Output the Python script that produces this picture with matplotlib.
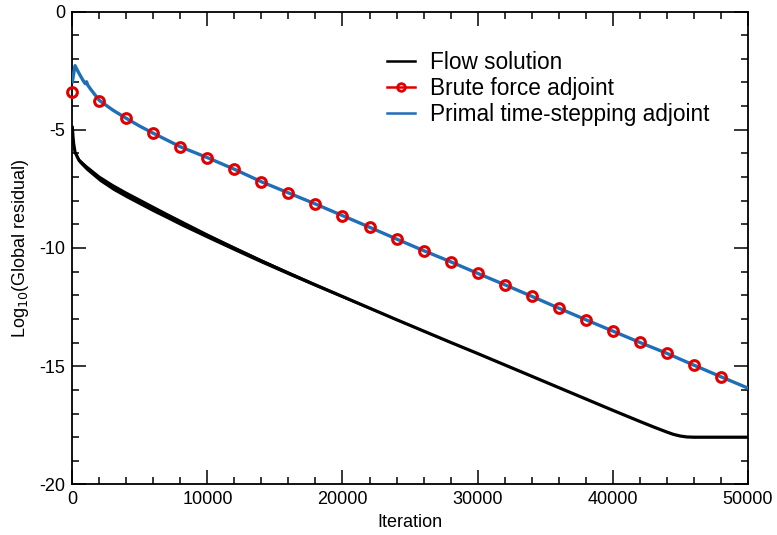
import matplotlib
matplotlib.use("Agg")
import matplotlib.pyplot as plt
from matplotlib.lines import Line2D
from matplotlib.ticker import MultipleLocator

plt.rcParams["font.family"] = ["Liberation Sans", "DejaVu Sans"]
plt.rcParams["axes.unicode_minus"] = False

# Flow solution residual: centre line and half-width of the noisy band
flow_iter = [0, 50, 100, 200, 500, 1000, 2000, 3000, 4000, 5000, 6000, 7000,
             8000, 9000, 10000, 12000, 14000, 16000, 18000, 20000, 22000,
             24000, 26000, 28000, 30000, 32000, 34000, 36000, 38000, 40000,
             42000, 43000, 44000, 44500, 45000, 45500, 46000, 50000]
flow_res = [-4.9, -5.3, -5.6, -5.95, -6.3, -6.58, -7.05, -7.42, -7.74, -8.04,
            -8.34, -8.63, -8.92, -9.2, -9.48, -10.02, -10.55, -11.06, -11.56,
            -12.05, -12.54, -13.03, -13.51, -13.99, -14.46, -14.94, -15.42,
            -15.9, -16.38, -16.86, -17.33, -17.56, -17.78, -17.88, -17.95,
            -17.99, -18.0, -18.0]
flow_spread = [0.02, 0.04, 0.06, 0.08, 0.1, 0.12, 0.13, 0.14, 0.14, 0.14,
               0.14, 0.13, 0.13, 0.12, 0.11, 0.1, 0.09, 0.08, 0.07, 0.06,
               0.05, 0.04, 0.04, 0.035, 0.03, 0.03, 0.03, 0.025, 0.025, 0.02,
               0.02, 0.02, 0.02, 0.02, 0.02, 0.02, 0.02, 0.02]

# Brute force adjoint, sampled every 2000 iterations
brute_iter = list(range(0, 50000, 2000))
brute_res = [-3.40, -3.78, -4.52, -5.15, -5.72, -6.18, -6.67, -7.20, -7.67,
             -8.14, -8.63, -9.12, -9.62, -10.11, -10.58, -11.07, -11.55,
             -12.04, -12.54, -13.03, -13.51, -13.99, -14.45, -14.95, -15.44]

# Primal time-stepping adjoint
primal_iter = [0, 200, 500, 800, 950, 1050, 1150, 1400, 2000, 3000, 4000,
               5000, 6000, 8000, 10000, 12000, 14000, 16000, 18000, 20000,
               22000, 24000, 26000, 28000, 30000, 32000, 34000, 36000, 38000,
               40000, 42000, 44000, 46000, 48000, 50000]
primal_res = [-2.97, -2.29, -2.62, -2.92, -3.05, -2.97, -3.12, -3.32, -3.76,
              -4.17, -4.52, -4.85, -5.15, -5.72, -6.18, -6.67, -7.20, -7.67,
              -8.14, -8.63, -9.12, -9.62, -10.11, -10.58, -11.07, -11.55,
              -12.04, -12.54, -13.03, -13.51, -13.99, -14.45, -14.95, -15.44,
              -15.92]

BLUE = "#1f6fb8"
RED = "#e00000"

fig = plt.figure(figsize=(7.77, 5.35), dpi=100)
ax = fig.add_axes([0.0931, 0.0944, 0.8692, 0.8841])

lo = [m - s for m, s in zip(flow_res, flow_spread)]
hi = [m + s for m, s in zip(flow_res, flow_spread)]
ax.fill_between(flow_iter, lo, hi, color="black", lw=0, zorder=2)
ax.plot(flow_iter, flow_res, color="black", lw=2.3, zorder=2,
        solid_joinstyle="round")

ax.plot(primal_iter, primal_res, color=BLUE, lw=2.4, zorder=3,
        solid_joinstyle="round")
ax.plot(brute_iter, brute_res, ls="none", marker="o", ms=7.0,
        mfc="none", mec=RED, mew=2.2, zorder=4, clip_on=False)

ax.set_xlim(0, 50000)
ax.set_ylim(-20, 0)
ax.xaxis.set_major_locator(MultipleLocator(10000))
ax.xaxis.set_minor_locator(MultipleLocator(2000))
ax.yaxis.set_major_locator(MultipleLocator(5))
ax.yaxis.set_minor_locator(MultipleLocator(1))
ax.tick_params(which="both", direction="in", top=True, right=True,
               labelsize=13, width=1.1, pad=5)
ax.tick_params(which="major", length=10)
ax.tick_params(which="minor", length=5)
for sp in ax.spines.values():
    sp.set_linewidth(1.3)

ax.set_xlabel("Iteration", fontsize=13, labelpad=4)
ax.set_ylabel("Log$_{10}$(Global residual)", fontsize=13, labelpad=6)

handles = [
    Line2D([], [], color="black", lw=1.8),
    Line2D([], [], color=RED, lw=1.8, marker="o", ms=5.5, mfc="none",
           mec=RED, mew=2.0, markevery=[0, -1]),
    Line2D([], [], color=BLUE, lw=1.8),
]
labels = ["Flow solution", "Brute force adjoint", "Primal time-stepping adjoint"]
ax.legend(handles, labels, loc="upper left", bbox_to_anchor=(0.452, 0.935),
          frameon=False, fontsize=16.3, handlelength=1.25, handletextpad=0.65,
          labelspacing=0.135, borderaxespad=0)

fig.savefig("out.png", dpi=100)
